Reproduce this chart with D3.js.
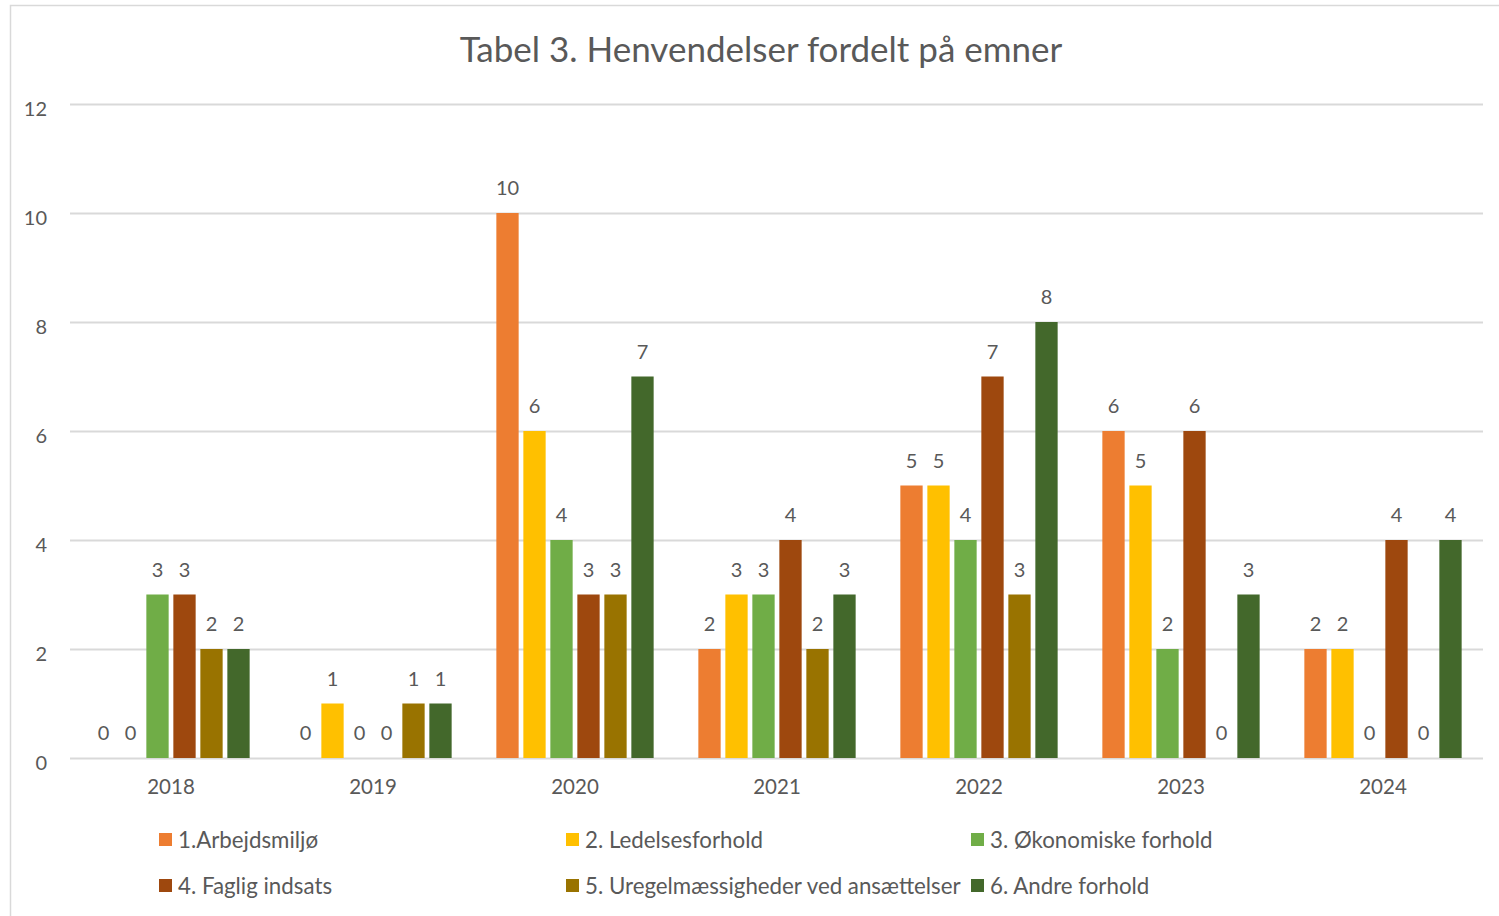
<!DOCTYPE html>
<html>
<head>
<meta charset="utf-8">
<script src="https://cdn.jsdelivr.net/npm/d3@7"></script>
<style>
  body { margin: 0; background: #fff; }
  svg text { font-family: Lato, "Open Sans", sans-serif; fill: #595959; }
</style>
</head>
<body>
<div id="chart"></div>
<script>
'use strict';

var years = ['2018', '2019', '2020', '2021', '2022', '2023', '2024'];
var seriesNames = [
  '1.Arbejdsmiljø',
  '2. Ledelsesforhold',
  '3. Økonomiske forhold',
  '4. Faglig indsats',
  '5. Uregelmæssigheder ved ansættelser',
  '6. Andre forhold'
];
var arbejdsmiljo = [0, 0, 10, 2, 5, 6, 2];
var ledelse = [0, 1, 6, 3, 5, 5, 2];
var okonomi = [3, 0, 4, 3, 4, 2, 0];
var faglig = [3, 0, 3, 4, 7, 6, 4];
var uregel = [2, 1, 3, 2, 3, 0, 0];
var andre = [2, 1, 7, 3, 8, 3, 4];
var yTicks = [0, 2, 4, 6, 8, 10, 12];
var colors = ['#ED7D31', '#FFC000', '#70AD47', '#9E480E', '#997300', '#43682B'];

var allSeries = [arbejdsmiljo, ledelse, okonomi, faglig, uregel, andre];

var width = 1499;
var height = 916;
var plotLeft = 70;
var plotRight = 1484;
var plotTop = 104;
var plotBottom = 758;

var svg = d3.select('#chart')
  .append('svg')
  .attr('width', width)
  .attr('height', height);

// chart border
svg.append('rect')
  .attr('x', 10.5)
  .attr('y', 5.5)
  .attr('width', 1500)
  .attr('height', 920)
  .attr('fill', 'none')
  .attr('stroke', '#d9d9d9')
  .attr('stroke-width', 1.5);

svg.append('text')
  .attr('x', 761)
  .attr('y', 62)
  .attr('text-anchor', 'middle')
  .attr('font-size', 35)
  .text('Tabel 3. Henvendelser fordelt på emner');

var x0 = d3.scaleBand().domain(years).range([plotLeft, plotRight]);
var x1 = d3.scaleBand()
  .domain(d3.range(seriesNames.length))
  .range([22.35, x0.bandwidth() - 22.35])
  .paddingInner(0.174);
var y = d3.scaleLinear().domain([0, 12]).range([plotBottom, plotTop]);

// gridlines
var yAxis = d3.axisLeft(y).tickValues(yTicks).tickSize(-(plotRight - 1 - plotLeft)).tickPadding(23);
var gy = svg.append('g')
  .attr('transform', 'translate(' + plotLeft + ',0)')
  .call(yAxis);
gy.select('.domain').remove();
gy.selectAll('.tick line').attr('stroke', '#d9d9d9').attr('stroke-width', 2);
gy.selectAll('.tick text')
  .attr('font-size', 20)
  .attr('dy', '0.55em')
  .style('fill', '#595959');

var xAxis = d3.axisBottom(x0).tickSize(0).tickPadding(21);
var gx = svg.append('g')
  .attr('transform', 'translate(0,' + plotBottom + ')')
  .call(xAxis);
gx.select('.domain').remove();
gx.selectAll('.tick text').attr('font-size', 20.5).style('fill', '#595959');

var groups = svg.selectAll('g.year')
  .data(years)
  .enter()
  .append('g')
  .attr('class', 'year')
  .attr('transform', function (d) { return 'translate(' + x0(d) + ',0)'; });

groups.each(function (yr, yi) {
  var g = d3.select(this);
  var vals = allSeries.map(function (s, si) { return { si: si, v: s[yi] }; });

  g.selectAll('rect')
    .data(vals)
    .enter()
    .append('rect')
    .attr('x', function (d) { return x1(d.si); })
    .attr('y', function (d) { return y(d.v); })
    .attr('width', x1.bandwidth())
    .attr('height', function (d) { return plotBottom - y(d.v); })
    .attr('fill', function (d) { return colors[d.si]; });

  g.selectAll('text.lbl')
    .data(vals)
    .enter()
    .append('text')
    .attr('class', 'lbl')
    .attr('x', function (d) { return x1(d.si) + x1.bandwidth() / 2; })
    .attr('y', function (d) { return y(d.v) - 18; })
    .attr('text-anchor', 'middle')
    .attr('font-size', 20)
    .text(function (d) { return d.v; });
});

// legend
var legendCols = [159, 566, 971];
var legendRows = [840, 886];
var legend = svg.selectAll('g.legend')
  .data(seriesNames)
  .enter()
  .append('g')
  .attr('class', 'legend')
  .attr('transform', function (d, i) {
    return 'translate(' + legendCols[i % 3] + ',' + legendRows[Math.floor(i / 3)] + ')';
  });

legend.append('rect')
  .attr('x', 0)
  .attr('y', -7)
  .attr('width', 13)
  .attr('height', 13)
  .attr('fill', function (d, i) { return colors[i]; });

legend.append('text')
  .attr('x', 19)
  .attr('y', 0)
  .attr('dy', '0.35em')
  .attr('font-size', 22.3)
  .text(function (d) { return d; });
</script>
</body>
</html>
